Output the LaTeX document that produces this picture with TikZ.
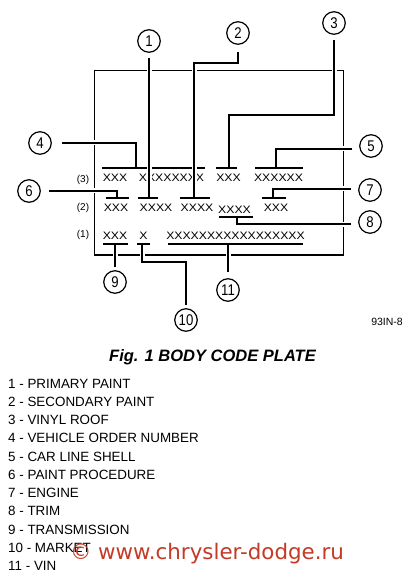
\documentclass[tikz,border=0pt]{standalone}
\usepackage{fontspec}
\setmainfont{Liberation Sans}
\newfontfamily\wmfont{DejaVu Sans}
\usetikzlibrary{calc}
\definecolor{wmred}{RGB}{196,58,38}
\newcommand\wideX[1]{\scalebox{1.13}[1]{#1}}
\newcommand\cnum[1]{\scalebox{0.85}[1]{#1}}
\begin{document}
\begin{tikzpicture}[x=1pt,y=-1pt,
  frame/.style={line width=1.4pt},
  leader/.style={line width=1.8pt, preaction={draw=white, line width=5pt, shorten >=2pt}},
  barn/.style={fill=black, inner sep=0pt, outer sep=0pt, minimum height=2pt},
  callout/.style={circle, draw, line width=1.2pt, minimum size=22.5pt, inner sep=0pt, font=\fontsize{15.5}{15.5}\selectfont},
  xs/.style={inner sep=0pt, font=\fontsize{10.8}{10.8}\selectfont},
  rowlab/.style={inner sep=0pt, font=\fontsize{10}{10}\selectfont},
  legend/.style={anchor=base west, inner sep=0pt, font=\fontsize{13.4}{13.4}\selectfont}]
\useasboundingbox (0,0) rectangle (410,577);

% frame of the plate
\draw[frame] (94.5,70.7) rectangle (343.5,255);

% callout circles
\node[callout] (c1) at (149,41) {\cnum{1}};
\node[callout] (c2) at (238,33) {\cnum{2}};
\node[callout] (c3) at (334,23) {\cnum{3}};
\node[callout] (c4) at (40,143) {\cnum{4}};
\node[callout] (c5) at (371,146) {\cnum{5}};
\node[callout] (c6) at (29,191) {\cnum{6}};
\node[callout] (c7) at (370,190) {\cnum{7}};
\node[callout] (c8) at (370,222) {\cnum{8}};
\node[callout] (c9) at (115,282) {\cnum{9}};
\node[callout] (c10) at (186,320) {\cnum{10}};
\node[callout] (c11) at (228,290) {\cnum{11}};

% row labels
\node[rowlab] (l3) at (83,180) {(3)};
\node[rowlab] (l2) at (83,208) {(2)};
\node[rowlab] (l1) at (83,235) {(1)};

% row 3 texts
\node[xs] (r3a) at (115,178) {\wideX{XXX}};
\node[xs] (r3b) at (171.5,178) {\wideX{XXXXXXXX}};
\node[xs] (r3c) at (228.5,178) {\wideX{XXX}};
\node[xs] (r3d) at (278.5,178) {\wideX{XXXXXX}};
% row 2 texts
\node[xs] (r2a) at (116,208) {\wideX{XXX}};
\node[xs] (r2b) at (156,208) {\wideX{XXXX}};
\node[xs] (r2c) at (197,208) {\wideX{XXXX}};
\node[xs] (r2d) at (234.5,210) {\wideX{XXXX}};
\node[xs] (r2e) at (276,208) {\wideX{XXX}};
% row 1 texts
\node[xs] (r1a) at (115,236) {\wideX{XXX}};
\node[xs] (r1b) at (143.5,236) {\wideX{X}};
\node[xs] (r1c) at (235.5,236) {\wideX{XXXXXXXXXXXXXXXXX}};

% bars
\node[barn, minimum width=103pt] (b4) at (153.5,168) {};
\node[barn, minimum width=21pt] (b3) at (226.5,168) {};
\node[barn, minimum width=48pt] (b5) at (279,168) {};
\node[barn, minimum width=23pt] (b6) at (117.5,198) {};
\node[barn, minimum width=20pt] (b1) at (148,198) {};
\node[barn, minimum width=30pt] (b2) at (195,198) {};
\node[barn, minimum width=24pt] (b7) at (274,198) {};
\node[barn, minimum width=34pt] (b8) at (236,217) {};
\node[barn, minimum width=25pt] (b9) at (115.5,244) {};
\node[barn, minimum width=13pt] (b10) at (143.5,244) {};
\node[barn, minimum width=135pt] (b11) at (235.5,244) {};

% bend / attach points
\coordinate (k2) at (194,63);
\coordinate (k3) at (229,115);
\coordinate (t4) at (136,168);
\coordinate (t5) at (276,168);
\coordinate (t6) at (117,198);
\coordinate (t7) at (273,198);
\coordinate (t8) at (237,217);
\coordinate (k10) at (142,262);
\coordinate (t10) at (142,244);

% leaders
\draw[leader] ($(c1.south)+(0,5)$) -- (c1.south |- b1.center);
\draw[leader] ($(c2.south)+(0,7)$) |- (k2) -- (k2 |- b2.center);
\draw[leader] ($(c3.south)+(0,5)$) |- (k3) -- (k3 |- b3.center);
\draw[leader] ($(c4.east)+(10,0)$) -| (t4);
\draw[leader] ($(c5.west)+(-7,3)$) -| (t5);
\draw[leader] ($(c6.east)+(8,0)$) -| (t6);
\draw[leader] ($(c7.west)+(-7,-1)$) -| (t7);
\draw[leader] ($(c8.west)+(-7,2)$) -| (t8);
\draw[leader] ($(c9.north)+(0,-3)$) -- (c9.north |- b9.center);
\draw[leader] ($(c10.north)+(0,-3)$) |- (k10) -- (t10);
\draw[leader] ($(c11.north)+(0,-6)$) -- (c11.north |- b11.center);

% figure id and caption
\node[font=\fontsize{10.5}{10.5}\selectfont, anchor=east, inner sep=0pt] (fid) at (403,322) {93IN-8};
\node[font=\fontsize{16.5}{16.5}\selectfont\bfseries\itshape, inner sep=0pt] (cap) at (212.5,357) {Fig. 1 BODY CODE PLATE};

% legend
\node[legend] (lg1) at (8,388) {1 - PRIMARY PAINT};
\node[legend] (lg2) at (8,406.25) {2 - SECONDARY PAINT};
\node[legend] (lg3) at (8,424.5) {3 - VINYL ROOF};
\node[legend] (lg4) at (8,442.75) {4 - VEHICLE ORDER NUMBER};
\node[legend] (lg5) at (8,461) {5 - CAR LINE SHELL};
\node[legend] (lg6) at (8,479.25) {6 - PAINT PROCEDURE};
\node[legend] (lg7) at (8,497.5) {7 - ENGINE};
\node[legend] (lg8) at (8,515.75) {8 - TRIM};
\node[legend] (lg9) at (8,534) {9 - TRANSMISSION};
\node[legend] (lg10) at (8,552.25) {10 - MARKET};
\node[legend] (lg11) at (8,570.5) {11 - VIN};

% watermark
\node[anchor=base, inner sep=0pt, text=wmred, font=\wmfont\fontsize{21.4}{21.4}\selectfont] (wm) at (207,559) {© www.chrysler-dodge.ru};
\end{tikzpicture}
\end{document}
